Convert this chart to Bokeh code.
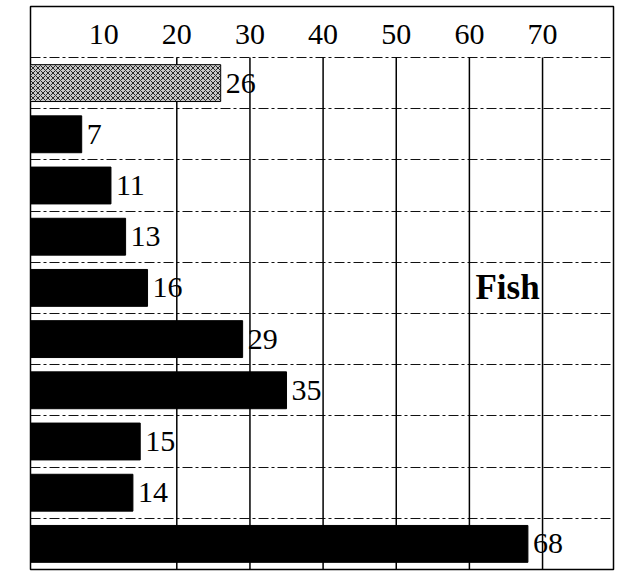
from bokeh.plotting import figure
from bokeh.models import ColumnDataSource, Range1d, FixedTicker
from bokeh.core.properties import value
from bokeh.embed import file_html
from bokeh.resources import INLINE

# ---- data ----
values = [26, 7, 11, 13, 16, 29, 35, 15, 14, 68]
bar_colors = ["#c8c8c8", "black", "black", "black", "black", "black", "black", "black", "black", "black"]
bar_hatch = ["x", " ", " ", " ", " ", " ", " ", " ", " ", " "]
tick_values = [10, 20, 30, 40, 50, 60, 70]
tick_labels = ["10", "20", "30", "40", "50", "60", "70"]
note_text = "Fish"
note_row = 4
note_x = 69.6

n = len(values)
rows = [n - i - 0.5 for i in range(n)]
header = 51 / 51.2

p = figure(width=621, height=575, output_backend="svg", toolbar_location=None,
           x_range=Range1d(0, 79.7), y_range=Range1d(0, n + header),
           min_border_left=30, min_border_right=8, min_border_top=6, min_border_bottom=6)
p.axis.visible = False
p.xgrid.visible = False
p.ygrid.ticker = FixedTicker(ticks=list(range(1, n + 1)))
p.ygrid.grid_line_color = "#111111"
p.ygrid.grid_line_width = 1
p.ygrid.grid_line_dash = "10 3 3 3"
p.outline_line_color = "black"
p.outline_line_width = 1.5
p.background_fill_color = "white"

# vertical grid lines (only over the bar rows; the 10 line is not drawn in the original)
grid_values = tick_values[1:]
p.segment(x0=grid_values, x1=grid_values, y0=[0] * len(grid_values), y1=[n] * len(grid_values),
          line_color="black", line_width=1.5)

src = ColumnDataSource(dict(y=rows, v=values, c=bar_colors, h=bar_hatch,
                            t=[str(v) for v in values]))
p.hbar(y="y", right="v", left=0, height=0.72, source=src, fill_color="c",
       line_color="black", line_width=1, hatch_pattern="h", hatch_color="black",
       hatch_scale=5, hatch_weight=0.8)

p.text(x="v", y="y", text="t", source=src, x_offset=5, text_baseline="middle",
       text_align="left", text_font=value("Liberation Serif"), text_font_size="30px",
       text_color="black")

# top tick labels
p.text(x=tick_values, y=[n + header * 0.45] * len(tick_values), text=tick_labels,
       text_align="center", text_baseline="middle", text_font=value("Liberation Serif"),
       text_font_size="30px", text_color="black")

# note
p.text(x=[note_x], y=[rows[note_row]], text=[note_text], text_align="right",
       text_baseline="middle", text_font=value("Liberation Serif"), text_font_size="35px",
       text_font_style="bold", text_color="black")

open("out.html", "w").write(file_html(p, INLINE))
